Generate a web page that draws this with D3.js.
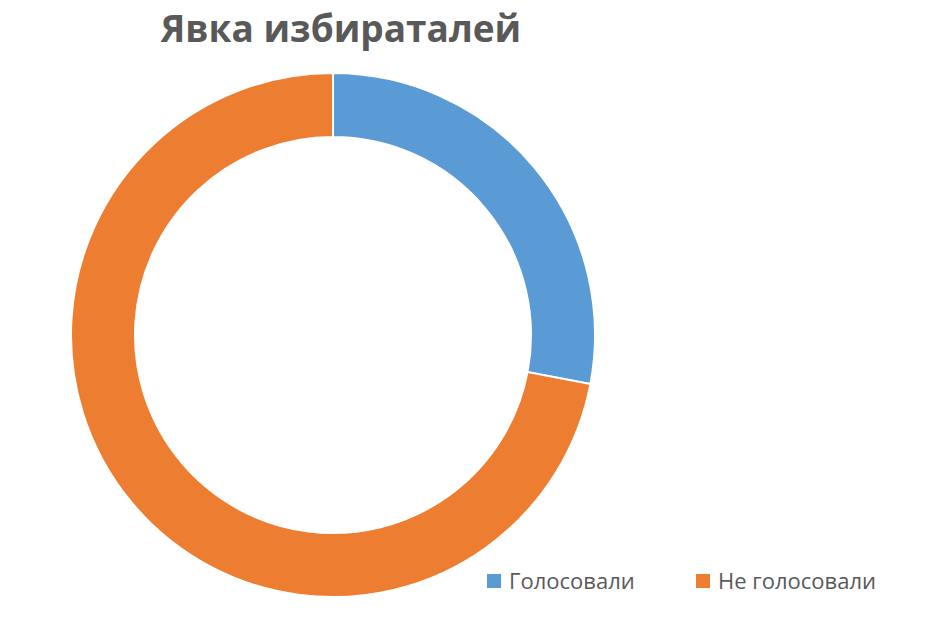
<!DOCTYPE html>
<html><head><meta charset="utf-8">
<script src="https://cdn.jsdelivr.net/npm/d3@7"></script>
<style>body{margin:0;background:#fff}</style></head>
<body><svg id="c" width="944" height="640"></svg>
<script>
const categories = ["Голосовали", "Не голосовали"];
const values = [28, 72];
const colors = ["#5b9bd5", "#ed7d31"];
const title = "Явка избиратолей".replace("избиратолей","избиратолей");
const svg = d3.select("#c");
svg.append("text").attr("x", 341).attr("y", 42).attr("text-anchor", "middle")
  .attr("font-family", "Open Sans, sans-serif").attr("font-weight", "bold").attr("font-size", 37)
  .attr("fill", "#595959").text("Явка избиратaлей".replace("a","а"));
const pie = d3.pie().sort(null).value(d => d)(values);
const arc = d3.arc().innerRadius(198).outerRadius(262);
svg.append("g").attr("transform", "translate(333,335)")
  .selectAll("path").data(pie).join("path")
  .attr("d", arc).attr("fill", (d, i) => colors[i]).attr("stroke", "#fff").attr("stroke-width", 2);
const lg = svg.append("g").attr("font-family", "Open Sans, sans-serif").attr("font-size", 22).attr("fill", "#595959");
const lx = [487, 696];
categories.forEach((c, i) => {
  lg.append("rect").attr("x", lx[i]).attr("y", 574).attr("width", 14).attr("height", 14).attr("fill", colors[i]);
  lg.append("text").attr("x", lx[i] + 22).attr("y", 589).text(c);
});
</script></body></html>
